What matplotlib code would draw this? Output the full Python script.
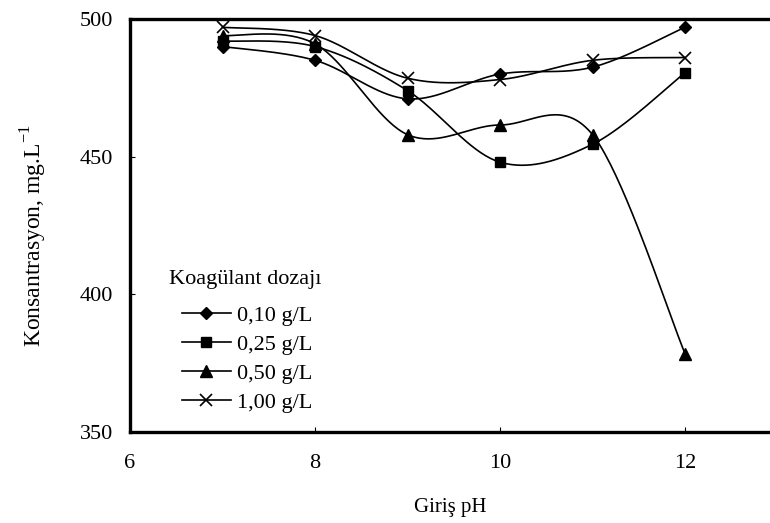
import numpy as np
import matplotlib
matplotlib.use("Agg")
import matplotlib.pyplot as plt

plt.rcParams['font.family'] = ['Liberation Serif', 'DejaVu Serif']
plt.rcParams['mathtext.fontset'] = 'custom'
plt.rcParams['mathtext.rm'] = 'Liberation Serif'

# Inlet pH values
ph = [7, 8, 9, 10, 11, 12]

# Concentration (mg/L) for each coagulant dose
dose_010 = [490, 485, 471, 480, 482.5, 497]
dose_025 = [492, 490, 474, 448, 454.5, 480.5]
dose_050 = [494, 491, 458, 461.5, 458, 378.5]
dose_100 = [497, 494, 478.5, 478, 485, 486]

series_labels = ["0,10 g/L", "0,25 g/L", "0,50 g/L", "1,00 g/L"]
legend_title = "Koagülant dozajı"
x_label = "Giriş pH"
y_label = "Konsantrasyon, mg.L$^{-1}$"
x_ticks = [6, 8, 10, 12]
y_ticks = [350, 400, 450, 500]


def smooth_curve(xs, ys, n=40):
    """Spreadsheet-style smoothed line: cubic Bezier segments whose
    control points follow the neighbouring points (Catmull-Rom)."""
    xs = np.asarray(xs, float)
    ys = np.asarray(ys, float)
    pts = np.column_stack([xs, ys])
    out = []
    m = len(pts)
    for i in range(m - 1):
        p0 = pts[i - 1] if i > 0 else pts[i]
        p1 = pts[i]
        p2 = pts[i + 1]
        p3 = pts[i + 2] if i + 2 < m else pts[i + 1]
        c1 = p1 + (p2 - p0) / 6.0
        c2 = p2 - (p3 - p1) / 6.0
        t = np.linspace(0, 1, n)[:, None]
        seg = ((1 - t) ** 3) * p1 + 3 * ((1 - t) ** 2) * t * c1 \
            + 3 * (1 - t) * t ** 2 * c2 + t ** 3 * p2
        out.append(seg if i == 0 else seg[1:])
    seg = np.vstack(out)
    return seg[:, 0], seg[:, 1]


fig = plt.figure(figsize=(7.70, 5.23), dpi=100)
ax = fig.add_axes([130 / 770, 1 - 432 / 523, 640 / 770, 413 / 523])

styles = [
    dict(marker="D", ms=6.5, mfc="black", mec="black"),
    dict(marker="s", ms=6.5, mfc="black", mec="black"),
    dict(marker="^", ms=8, mfc="black", mec="black"),
    dict(marker="x", ms=8, mew=1.2, mfc="black", mec="black"),
]
all_series = [dose_010, dose_025, dose_050, dose_100]

handles = []
for vals, st, lab in zip(all_series, styles, series_labels):
    sx, sy = smooth_curve(ph, vals)
    ax.plot(sx, sy, color="black", lw=1.2, zorder=2)
    ax.plot(ph, vals, ls="none", zorder=3, **st)
    h, = ax.plot([], [], color="black", lw=1.2, label=lab, **st)
    handles.append(h)

ax.set_xlim(6, 6 + 640 / 92.5)
ax.set_ylim(350, 500)
ax.set_xticks(x_ticks)
ax.set_yticks(y_ticks)
ax.tick_params(axis="both", direction="in", length=3.5, width=0.8,
               labelsize=16)
ax.tick_params(axis="x", pad=16)
ax.tick_params(axis="y", pad=12)

for side in ("left", "bottom", "top"):
    ax.spines[side].set_linewidth(2.4)
ax.spines["right"].set_visible(False)

ax.set_xlabel(x_label, fontsize=15, labelpad=18)
ax.set_ylabel(y_label, fontsize=17)
ax.yaxis.set_label_coords(-0.126, 0.475)

ax.text(0.061, 0.37, legend_title, transform=ax.transAxes,
        fontsize=16, ha="left", va="center")
ax.legend(handles=handles, loc="upper left",
          bbox_to_anchor=(0.081, 0.307), frameon=False,
          fontsize=16, borderpad=0, borderaxespad=0,
          handlelength=2.2, handletextpad=0.3, labelspacing=0.38)

fig.savefig("out.png", dpi=100)
